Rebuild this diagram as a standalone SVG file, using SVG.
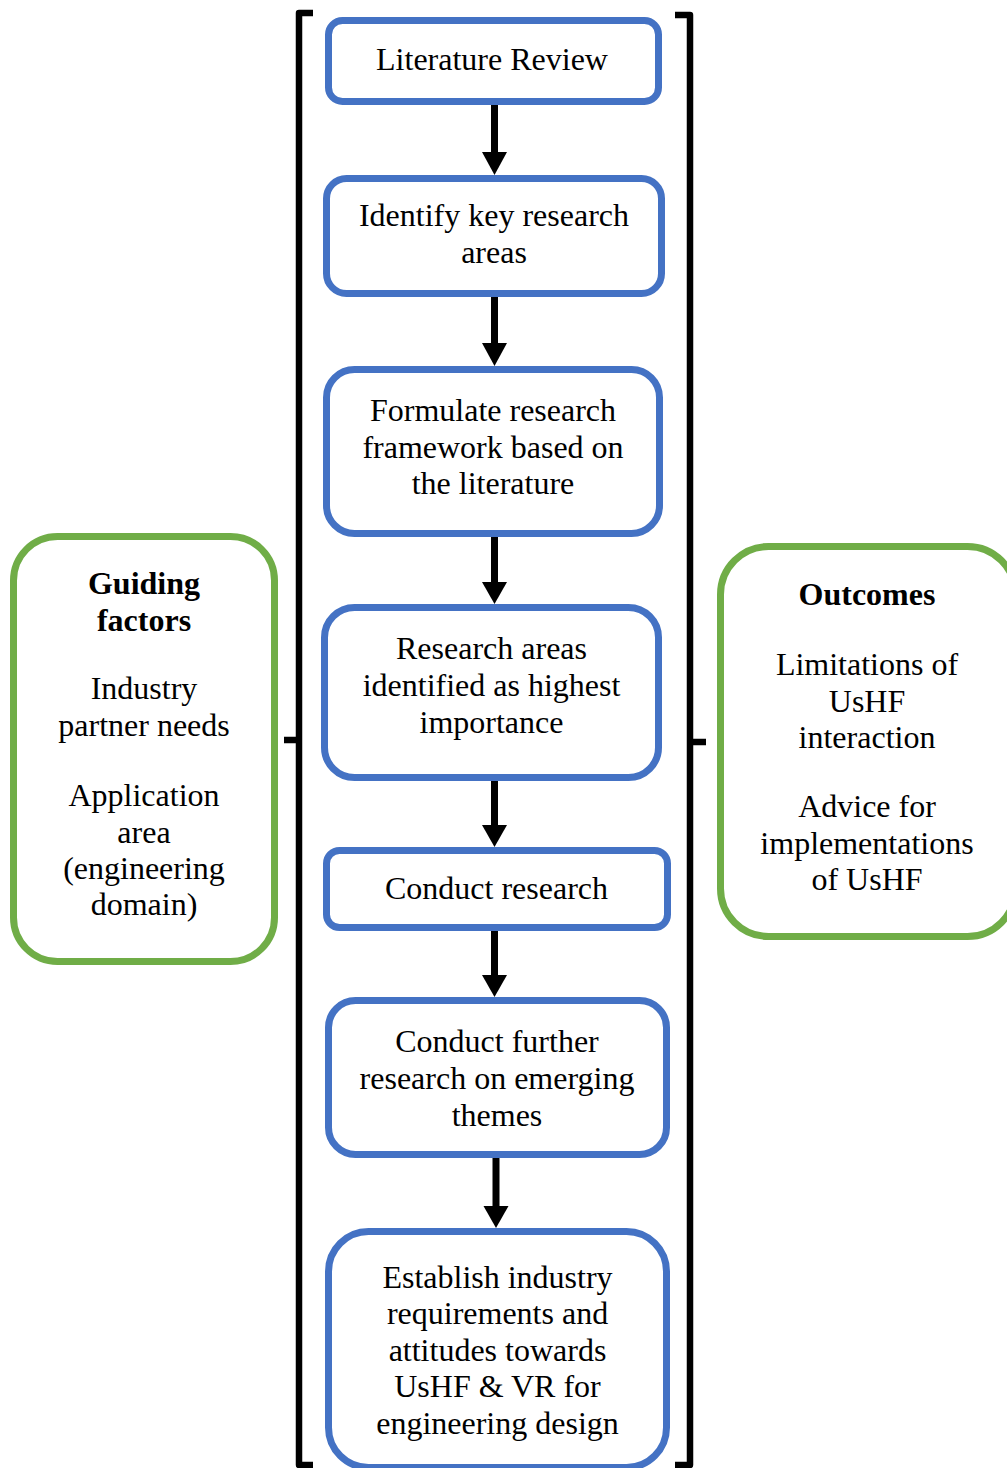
<svg xmlns="http://www.w3.org/2000/svg" width="1007" height="1468" viewBox="0 0 1007 1468">
<style>
.step{fill:#fff;stroke:#4472C4;stroke-width:7}
.side{fill:#fff;stroke:#70AD47;stroke-width:7}
text{font-family:"Liberation Serif","Times New Roman",serif;font-size:32px;fill:#000;text-anchor:middle}
.b{font-weight:bold}
.br{fill:none;stroke:#000;stroke-width:6.5;stroke-linejoin:round}
.ln{stroke:#000;stroke-width:7}
</style>
<rect width="1007" height="1468" fill="#fff"/>
<g id="brackets">
<path class="br" d="M313,13 H299 V1465 H313 M284,740 H299"/>
<path class="br" d="M675,15 H690 V1465 H675 M690,742 H706"/>
</g>
<g id="connectors">
<line class="ln" x1="494.5" y1="105" x2="494.5" y2="156"/><polygon points="482,152 507,152 494.5,175"/>
<line class="ln" x1="494.5" y1="297" x2="494.5" y2="347"/><polygon points="482,343 507,343 494.5,366"/>
<line class="ln" x1="494.5" y1="537" x2="494.5" y2="586"/><polygon points="482,582 507,582 494.5,604"/>
<line class="ln" x1="494.5" y1="781" x2="494.5" y2="829"/><polygon points="482,825 507,825 494.5,847"/>
<line class="ln" x1="494.5" y1="931" x2="494.5" y2="979"/><polygon points="482,975 507,975 494.5,997"/>
<line class="ln" x1="496" y1="1158" x2="496" y2="1210"/><polygon points="483.5,1206 508.5,1206 496,1228"/>
</g>
<g id="n1"><rect class="step" x="328.5" y="20.5" width="330" height="81" rx="14"/><text x="492" y="70">Literature Review</text></g>
<g id="n2"><rect class="step" x="326.5" y="178.5" width="335" height="115" rx="20"/><text x="494" y="226">Identify key research</text><text x="494" y="263">areas</text></g>
<g id="n3"><rect class="step" x="326.5" y="369.5" width="333" height="164" rx="28"/><text x="493" y="421">Formulate research</text><text x="493" y="458">framework based on</text><text x="493" y="494">the literature</text></g>
<g id="n4"><rect class="step" x="324.5" y="607.5" width="334" height="170" rx="30"/><text x="491.5" y="659">Research areas</text><text x="491.5" y="696">identified as highest</text><text x="491.5" y="733">importance</text></g>
<g id="n5"><rect class="step" x="326.5" y="850.5" width="341" height="77" rx="13"/><text x="496.5" y="899">Conduct research</text></g>
<g id="n6"><rect class="step" x="328.5" y="1000.5" width="338" height="154" rx="27"/><text x="497" y="1052">Conduct further</text><text x="497" y="1089">research on emerging</text><text x="497" y="1126">themes</text></g>
<g id="n7"><rect class="step" x="328.5" y="1231.5" width="338" height="236" rx="40"/><text x="497.5" y="1288">Establish industry</text><text x="497.5" y="1324">requirements and</text><text x="497.5" y="1361">attitudes towards</text><text x="497.5" y="1397">UsHF &amp; VR for</text><text x="497.5" y="1434">engineering design</text></g>
<g id="guiding"><rect class="side" x="13.5" y="536.5" width="261" height="425" rx="44"/>
<text class="b" x="144" y="594">Guiding</text><text class="b" x="144" y="630.5">factors</text>
<text x="144" y="699">Industry</text><text x="144" y="735.5">partner needs</text>
<text x="144" y="806">Application</text><text x="144" y="842.5">area</text><text x="144" y="879">(engineering</text><text x="144" y="915">domain)</text></g>
<g id="outcomes"><rect class="side" x="720.5" y="546.5" width="295" height="390" rx="48"/>
<text class="b" x="867" y="605">Outcomes</text>
<text x="867" y="675">Limitations of</text><text x="867" y="711.5">UsHF</text><text x="867" y="748">interaction</text>
<text x="867" y="817">Advice for</text><text x="867" y="853.5">implementations</text><text x="867" y="890">of UsHF</text></g>
</svg>
